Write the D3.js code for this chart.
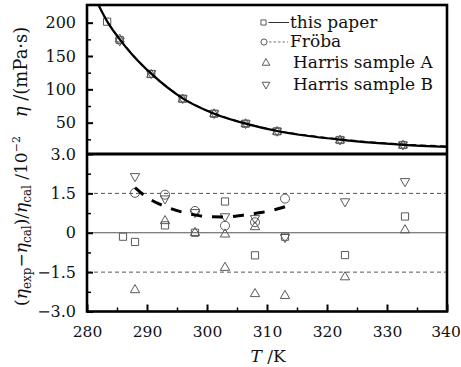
<!DOCTYPE html>
<html>
<head>
<meta charset="utf-8">
<script src="https://cdn.jsdelivr.net/npm/d3@7"></script>
<style>
    body { margin: 0; background: #fff; }
    svg text { font-family: "DejaVu Serif", serif; fill: #111; }
</style>
</head>
<body>
<svg id="chart" width="461" height="367"></svg>
<script>

// temperatures, K
const T_paper   = [286, 288, 293, 298, 303, 308, 313, 323, 333];
const T_froba   = [288, 293, 298, 303, 308, 313];
const T_harrisA = [288, 293, 298, 303, 303, 308, 308, 313, 323, 333];
const T_harrisB = [288, 293, 298, 303, 308, 313, 323, 333];
const T_harris_top = [288, 293, 298, 303, 308, 313, 323, 333];

// viscosity, mPa·s (upper panel)
const eta_paper   = [201.5, 174, 123, 86, 63.5, 48.5, 37, 24, 16.5];
const eta_harrisA = [175, 122, 85, 63, 48, 36.5, 23.5, 16];
const eta_harrisB = [173, 124, 86.5, 64, 49, 37.5, 24.5, 17];

// fitted curves, upper panel
const curve_T   = [284.7, 286, 288, 290, 293, 298, 303, 308, 313, 318, 323, 328, 333, 340];
const curve_eta = [225, 202, 175, 152, 123.5, 86.5, 63.5, 48.5, 37.5, 30, 24.5, 20, 16.8, 13.8];
const froba_eta = [225, 202.5, 175.5, 152.5, 124, 87, 64, 49, 38, 30.7, 25.2, 20.8, 17.6, 14.6];

// relative deviation, 10^-2 (lower panel)
const dev_paper   = [-0.15, -0.35, 0.28, 0.0, 1.19, -0.86, -0.15, -0.85, 0.62];
const dev_froba   = [1.52, 1.45, 0.83, 0.27, 0.4, 1.3];
const dev_harrisA = [-2.18, 0.45, 0.0, -0.06, -1.33, 0.22, -2.33, -2.4, -1.69, 0.1];
const dev_harrisB = [2.15, 1.3, 0.78, 0.62, 0.55, -0.17, 1.19, 1.96];

// Fröba deviation curve
const fit_T   = [288, 290, 292, 294, 296, 298, 300, 303, 306, 309, 311, 313];
const fit_dev = [1.72, 1.35, 1.1, 0.92, 0.78, 0.68, 0.61, 0.6, 0.67, 0.77, 0.86, 0.99];

// ticks
const x_ticks = [280, 290, 300, 310, 320, 330, 340];
const x_minor = [285, 295, 305, 315, 325, 335];
const top_ticks = [50, 100, 150, 200];
const top_minor = [25, 75, 125, 175];
const bot_ticks = [-3, -1.5, 0, 1.5, 3];
const bot_labels = ["\u22123.0", "\u22121.5", "0", "1.5", "3.0"];
const bot_minor = [-2.25, -0.75, 0.75, 2.25];

const legend_labels = ["this paper", "Fr\u00f6ba", "Harris sample A", "Harris sample B"];

const pLeft = 87, pRight = 447, pTop = 5, pMid = 154, pBottom = 311.5;
const markColor = "#5a5a5a";

const svg = d3.select("#chart");

// the upper panel sits on a slightly different x scale in the original figure
const xTop = d3.scaleLinear().domain([282.8, 340]).range([pLeft, pRight]);
const xBot = d3.scaleLinear().domain([280, 340]).range([pLeft, pRight]);
const yTop = d3.scaleLinear().domain([0, 226.5]).range([156, pTop]);
const yBot = d3.scaleLinear().domain([-3, 3]).range([pBottom, pMid]);

svg.append("clipPath").attr("id", "clipTop")
    .append("rect")
    .attr("x", pLeft).attr("y", pTop)
    .attr("width", pRight - pLeft).attr("height", pMid - pTop);

function sym(type, size) {
    return d3.symbol().type(type).size(size)();
}

function drawMarks(g, xs, ys, x, y, type, size, flip) {
    g.selectAll(null)
        .data(xs.map(function (d, i) { return [d, ys[i]]; }))
        .enter().append("path")
        .attr("d", sym(type, size))
        .attr("transform", function (d) {
            return "translate(" + x(d[0]) + "," + y(d[1]) + ")" + (flip ? " rotate(180)" : "");
        })
        .attr("fill", "none")
        .attr("stroke", markColor)
        .attr("stroke-width", 1);
}

// reference lines in lower panel
svg.selectAll(".ref")
    .data([-1.5, 0, 1.5])
    .enter().append("line")
    .attr("x1", pLeft).attr("x2", pRight)
    .attr("y1", function (d) { return yBot(d); })
    .attr("y2", function (d) { return yBot(d); })
    .attr("stroke", "#555")
    .attr("stroke-width", 1)
    .attr("stroke-dasharray", function (d) { return d === 0 ? null : "4,3"; });

//upper panel
const gTop = svg.append("g").attr("clip-path", "url(#clipTop)");

drawMarks(gTop, T_paper, eta_paper, xTop, yTop, d3.symbolSquare, 52, false);
drawMarks(gTop, T_harris_top, eta_harrisA, xTop, yTop, d3.symbolTriangle, 36, false);
drawMarks(gTop, T_harris_top, eta_harrisB, xTop, yTop, d3.symbolTriangle, 36, true);

const line = d3.line()
    .x(function (d) { return xTop(d[0]); })
    .y(function (d) { return yTop(d[1]); })
    .curve(d3.curveMonotoneX);

gTop.append("path")
    .attr("d", line(curve_T.map(function (d, i) { return [d, curve_eta[i]]; })))
    .attr("fill", "none")
    .attr("stroke", "#000")
    .attr("stroke-width", 2.2);

gTop.append("path")
    .attr("d", line(curve_T.map(function (d, i) { return [d, froba_eta[i]]; })))
    .attr("fill", "none")
    .attr("stroke", "#000")
    .attr("stroke-width", 1.5)
    .attr("stroke-dasharray", "6,4");

//lower panel
const gBot = svg.append("g");

drawMarks(gBot, T_paper, dev_paper, xBot, yBot, d3.symbolSquare, 52, false);
drawMarks(gBot, T_froba, dev_froba, xBot, yBot, d3.symbolCircle, 64, false);
drawMarks(gBot, T_harrisA, dev_harrisA, xBot, yBot, d3.symbolTriangle, 38, false);
drawMarks(gBot, T_harrisB, dev_harrisB, xBot, yBot, d3.symbolTriangle, 38, true);

gBot.append("path")
    .attr("d", d3.line()
        .x(function (d) { return xBot(d[0]); })
        .y(function (d) { return yBot(d[1]); })
        .curve(d3.curveMonotoneX)(fit_T.map(function (d, i) { return [d, fit_dev[i]]; })))
    .attr("fill", "none")
    .attr("stroke", "#000")
    .attr("stroke-width", 3)
    .attr("stroke-dasharray", "11,10");

// axes
function styleAxis(g, w) {
    g.select(".domain").remove();
    g.selectAll("line").attr("stroke", "#000").attr("stroke-width", w);
    g.selectAll("text")
        .style("font-family", "'DejaVu Serif', serif")
        .style("font-size", "16px")
        .attr("fill", "#111");
}

svg.append("g")
    .attr("transform", "translate(" + pLeft + ",0)")
    .call(d3.axisLeft(yTop).tickValues(top_ticks).tickSize(-6).tickPadding(11))
    .call(styleAxis, 2);

svg.append("g")
    .attr("transform", "translate(" + pLeft + ",0)")
    .call(d3.axisLeft(yTop).tickValues(top_minor).tickSize(-4).tickFormat(""))
    .call(styleAxis, 1.5);

svg.append("g")
    .attr("transform", "translate(" + pLeft + ",0)")
    .call(d3.axisLeft(yBot).tickValues(bot_ticks).tickSize(-6).tickPadding(11)
        .tickFormat(function (d, i) { return bot_labels[i]; }))
    .call(styleAxis, 2);

svg.append("g")
    .attr("transform", "translate(" + pLeft + ",0)")
    .call(d3.axisLeft(yBot).tickValues(bot_minor).tickSize(-4).tickFormat(""))
    .call(styleAxis, 1.5);

const xAxisG = svg.append("g")
    .attr("transform", "translate(0," + pBottom + ")")
    .call(d3.axisBottom(xBot).tickValues(x_ticks).tickSize(-7).tickPadding(14).tickFormat(d3.format("d")))
    .call(styleAxis, 2);

// keep the last label inside the page
xAxisG.selectAll("text")
    .style("font-size", "15.5px")
    .attr("dx", function (d) { return d === 340 ? -1.5 : 0; });

svg.append("g")
    .attr("transform", "translate(0," + pBottom + ")")
    .call(d3.axisBottom(xBot).tickValues(x_minor).tickSize(-4).tickFormat(""))
    .call(styleAxis, 1.5);

// frame
svg.append("rect")
    .attr("x", pLeft).attr("y", pTop)
    .attr("width", pRight - pLeft).attr("height", pBottom - pTop)
    .attr("fill", "none")
    .attr("stroke", "#000")
    .attr("stroke-width", 2.6);

svg.append("line")
    .attr("x1", pLeft).attr("x2", pRight)
    .attr("y1", pMid).attr("y2", pMid)
    .attr("stroke", "#000")
    .attr("stroke-width", 3);

// legend
const legRows = [22.5, 42, 63, 84.5];
const leg = svg.append("g");

leg.selectAll("text")
    .data(legend_labels)
    .enter().append("text")
    .attr("x", function (d, i) { return i < 2 ? 290 : 293; })
    .attr("y", function (d, i) { return legRows[i] + 5; })
    .style("font-size", "17px")
    .text(function (d) { return d; });

const legSyms = [
    {type: d3.symbolSquare, size: 26, flip: false, x: 263.5},
    {type: d3.symbolCircle, size: 30, flip: false, x: 264},
    {type: d3.symbolTriangle, size: 26, flip: false, x: 266},
    {type: d3.symbolTriangle, size: 26, flip: true, x: 266}
];

legSyms.forEach(function (s, i) {
    leg.append("path")
        .attr("d", sym(s.type, s.size))
        .attr("transform", "translate(" + s.x + "," + legRows[i] + ")" + (s.flip ? " rotate(180)" : ""))
        .attr("fill", "none")
        .attr("stroke", markColor)
        .attr("stroke-width", 1);
});

leg.append("line")
    .attr("x1", 268.5).attr("x2", 289)
    .attr("y1", legRows[0]).attr("y2", legRows[0])
    .attr("stroke", "#333").attr("stroke-width", 1);

leg.append("line")
    .attr("x1", 269).attr("x2", 288)
    .attr("y1", legRows[1]).attr("y2", legRows[1])
    .attr("stroke", "#777").attr("stroke-width", 1)
    .attr("stroke-dasharray", "2.5,2");

// axis titles
const ttop = svg.append("text")
    .attr("transform", "translate(27,72) rotate(-90)")
    .attr("text-anchor", "middle")
    .style("font-size", "18px");
ttop.append("tspan").style("font-style", "italic").text("\u03b7");
ttop.append("tspan").text(" /(mPa\u00b7s)");

const tbot = svg.append("text")
    .attr("transform", "translate(27,221) rotate(-90)")
    .attr("text-anchor", "middle")
    .style("font-size", "17px");
tbot.append("tspan").text("(");
tbot.append("tspan").style("font-style", "italic").text("\u03b7");
tbot.append("tspan").attr("dy", 4).style("font-size", "12px").text("exp");
tbot.append("tspan").attr("dy", -4).text("\u2212");
tbot.append("tspan").style("font-style", "italic").text("\u03b7");
tbot.append("tspan").attr("dy", 4).style("font-size", "12px").text("cal");
tbot.append("tspan").attr("dy", -4).text(")/");
tbot.append("tspan").style("font-style", "italic").text("\u03b7");
tbot.append("tspan").attr("dy", 4).style("font-size", "12px").text("cal");
tbot.append("tspan").attr("dy", -4).text(" /10");
tbot.append("tspan").attr("dy", -7).style("font-size", "11px").text("\u22122");

const tx = svg.append("text")
    .attr("x", 268).attr("y", 362)
    .attr("text-anchor", "middle")
    .style("font-size", "17px");
tx.append("tspan").style("font-style", "italic").text("T");
tx.append("tspan").text(" /K");

</script>
</body>
</html>
